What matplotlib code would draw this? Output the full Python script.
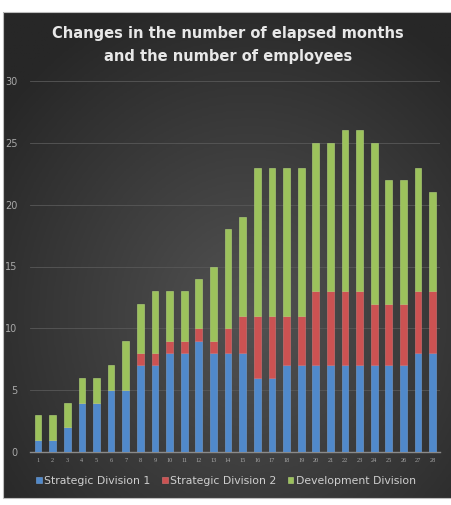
import numpy as np
import matplotlib
matplotlib.use('Agg')
import matplotlib.pyplot as plt
from matplotlib.patches import Rectangle

months = list(range(1, 29))
strategic_1 = [1, 1, 2, 4, 4, 5, 5, 7, 7, 8, 8, 9, 8, 8, 8, 6, 6, 7, 7, 7, 7, 7, 7, 7, 7, 7, 8, 8]
strategic_2 = [0, 0, 0, 0, 0, 0, 0, 1, 1, 1, 1, 1, 1, 2, 3, 5, 5, 4, 4, 6, 6, 6, 6, 5, 5, 5, 5, 5]
development = [2, 2, 2, 2, 2, 2, 4, 4, 5, 4, 4, 4, 6, 8, 8, 12, 12, 12, 12, 12, 12, 13, 13, 13, 10, 10, 10, 8]
series_names = ['Strategic Division 1', 'Strategic Division 2', 'Development Division']

COLORS = ['#5089cb', '#cc5252', '#9cc25c']

fig = plt.figure(figsize=(4.52, 5.05), dpi=100)
fig.patch.set_facecolor('white')

# dark radial-gradient panel behind everything
bg = fig.add_axes([3 / 452, 1 - 498 / 505, 449 / 452, 486 / 505], zorder=0)
yy, xx = np.mgrid[-1:1:300j, -1:1:300j]
r = np.sqrt((xx - 0.1) ** 2 + (yy - 0.25) ** 2)
bg.imshow(np.clip(r / 1.4, 0, 1), cmap=matplotlib.colors.LinearSegmentedColormap.from_list(
    'bgc', ['#525252', '#272727']), aspect='auto', extent=[0, 1, 0, 1])
bg.set_axis_off()
fig.patches.append(Rectangle((3 / 452, 1 - 498 / 505), 449 / 452, 486 / 505,
                             transform=fig.transFigure, fill=False,
                             edgecolor='#bdbdbd', linewidth=0.8, zorder=1))

ax = fig.add_axes([30 / 452, 1 - 452 / 505, 410 / 452, 371 / 505], zorder=2)
ax.patch.set_alpha(0)

x = np.array(months)
bottom2 = np.array(strategic_1)
bottom3 = bottom2 + np.array(strategic_2)
w = 0.46
ax.bar(x, strategic_1, width=w, color=COLORS[0], edgecolor='#72a2da', linewidth=0.4,
       label=series_names[0], zorder=3)
ax.bar(x, strategic_2, width=w, bottom=bottom2, color=COLORS[1], edgecolor='#db7373',
       linewidth=0.4, label=series_names[1], zorder=3)
ax.bar(x, development, width=w, bottom=bottom3, color=COLORS[2], edgecolor='#b4d67c',
       linewidth=0.4, label=series_names[2], zorder=3)

ax.set_xlim(0.45, 28.5)
ax.set_ylim(0, 30)
ax.set_yticks(range(0, 31, 5))
ax.set_xticks(months)
ax.tick_params(axis='y', length=0, pad=9, labelsize=7, labelcolor='#a8a8a8')
ax.tick_params(axis='x', length=0, pad=4, labelsize=4.5, labelcolor='#a8a8a8')
for lbl in ax.get_xticklabels():
    lbl.set_family('Liberation Serif')
ax.grid(axis='y', color='#585858', linewidth=0.6, zorder=0)
for s in ['top', 'right', 'left']:
    ax.spines[s].set_visible(False)
ax.spines['bottom'].set_color('#8a8a8a')
ax.spines['bottom'].set_linewidth(1.0)

fig.text(0.505, 1 - 33 / 505, 'Changes in the number of elapsed months',
         ha='center', va='center', color='#e8e8e8', fontsize=10.5, fontweight='bold')
fig.text(0.505, 1 - 56 / 505, 'and the number of employees',
         ha='center', va='center', color='#e8e8e8', fontsize=10.5, fontweight='bold')

leg = fig.legend(loc='center', bbox_to_anchor=(0.5, 1 - 481 / 505), ncol=3, frameon=False,
                 fontsize=7.8, handlelength=0.5, handleheight=0.5, handletextpad=0.2,
                 columnspacing=1.1)
for t in leg.get_texts():
    t.set_color('#cfcfcf')

fig.savefig('out.png', dpi=100, facecolor='white')
